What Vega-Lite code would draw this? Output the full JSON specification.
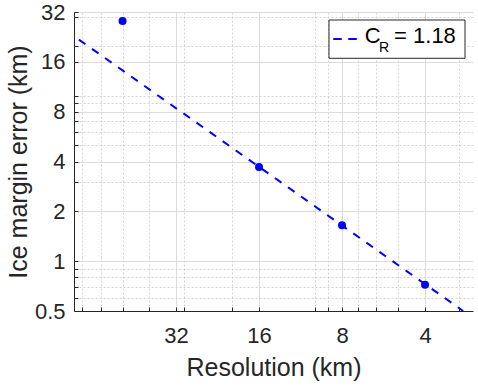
{
  "$schema": "https://vega.github.io/schema/vega-lite/v6.json",
  "width": 399,
  "height": 299,
  "autosize": {"type": "none"},
  "padding": {"left": 74, "top": 12, "right": 5, "bottom": 75},
  "background": "white",
  "config": {"view": {"stroke": null}, "font": "Liberation Sans"},
  "layer": [
    {
      "data": {"values": [
        {"res": 72, "err": 21.8},
        {"res": 2.91, "err": 0.5}
      ]},
      "mark": {"type": "line", "strokeDash": [8, 8], "strokeWidth": 2, "color": "#0000ff"},
      "encoding": {
        "x": {
          "field": "res", "type": "quantitative",
          "scale": {"type": "log", "domain": [2.68, 75], "reverse": true, "nice": false, "zero": false},
          "axis": {
            "title": "Resolution (km)",
            "values": [3, 4, 5, 6, 7, 8, 9, 10, 16, 20, 30, 32, 40, 50, 60, 70],
            "labelExpr": "indexof([4,8,16,32], datum.value) >= 0 ? datum.label : ''",
            "labelOverlap": false, "labelFlush": false,
            "labelFontSize": 22, "labelColor": "#262626", "labelPadding": 18,
            "tickSize": -4, "tickColor": "#262626", "domainColor": "#262626",
            "grid": true,
            "gridColor": {"condition": {"test": "indexof([4,8,16,32], datum.value) >= 0", "value": "#dcdcdc"}, "value": "#d2d2d2"},
            "gridDash": {"condition": {"test": "indexof([4,8,16,32], datum.value) >= 0", "value": []}, "value": [2, 2]},
            "titleFontSize": 25, "titleFontWeight": "normal", "titleColor": "#262626",
            "titleBaseline": "alphabetic", "titleY": 64
          }
        },
        "y": {
          "field": "err", "type": "quantitative",
          "scale": {"type": "log", "domain": [0.5, 32], "nice": false, "zero": false},
          "axis": {
            "title": "Ice margin error (km)",
            "values": [0.5, 0.6, 0.7, 0.8, 0.9, 1, 2, 3, 4, 5, 6, 7, 8, 9, 10, 16, 20, 30, 32],
            "labelExpr": "indexof([0.5,1,2,4,8,16,32], datum.value) >= 0 ? datum.label : ''",
            "labelOverlap": false, "labelFlush": false,
            "labelFontSize": 22, "labelColor": "#262626", "labelPadding": 13,
            "tickSize": -4, "tickColor": "#262626", "domainColor": "#262626",
            "grid": true,
            "gridColor": {"condition": {"test": "indexof([0.5,1,2,4,8,16,32], datum.value) >= 0", "value": "#dcdcdc"}, "value": "#d2d2d2"},
            "gridDash": {"condition": {"test": "indexof([0.5,1,2,4,8,16,32], datum.value) >= 0", "value": []}, "value": [2, 2]},
            "titleFontSize": 25, "titleFontWeight": "normal", "titleColor": "#262626",
            "titleBaseline": "alphabetic", "titleX": -48
          }
        }
      }
    },
    {
      "data": {"values": [
        {"res": 50, "err": 28.2},
        {"res": 16, "err": 3.7},
        {"res": 8, "err": 1.65},
        {"res": 4, "err": 0.72}
      ]},
      "mark": {"type": "circle", "size": 64, "color": "#0000ff", "opacity": 1},
      "encoding": {
        "x": {"field": "res", "type": "quantitative"},
        "y": {"field": "err", "type": "quantitative"}
      }
    },
    {
      "data": {"values": [{"key": "legend"}]},
      "mark": {"type": "rect", "fill": "white", "stroke": "#262626", "strokeWidth": 1},
      "encoding": {
        "x": {"datum": 8.92, "type": "quantitative"},
        "x2": {"datum": 2.865},
        "y": {"datum": 28.63, "type": "quantitative"},
        "y2": {"datum": 16.81}
      }
    },
    {
      "data": {"values": [{"key": "legend"}]},
      "mark": {"type": "rule", "strokeDash": [8.5, 6.5], "strokeWidth": 2, "color": "#0000ff"},
      "encoding": {
        "x": {"datum": 8.606, "type": "quantitative"},
        "x2": {"datum": 7.042},
        "y": {"datum": 21.98, "type": "quantitative"}
      }
    },
    {
      "data": {"values": [{"txt": "C"}]},
      "mark": {"type": "text", "align": "left", "baseline": "alphabetic", "fontSize": 22, "color": "#000000"},
      "encoding": {"x": {"datum": 6.616, "type": "quantitative"}, "y": {"datum": 20.88, "type": "quantitative"}, "text": {"field": "txt"}}
    },
    {
      "data": {"values": [{"txt": "R"}]},
      "mark": {"type": "text", "align": "left", "baseline": "alphabetic", "fontSize": 14, "color": "#000000"},
      "encoding": {"x": {"datum": 5.876, "type": "quantitative"}, "y": {"datum": 18.42, "type": "quantitative"}, "text": {"field": "txt"}}
    },
    {
      "data": {"values": [{"txt": "= 1.18"}]},
      "mark": {"type": "text", "align": "left", "baseline": "alphabetic", "fontSize": 22, "color": "#000000"},
      "encoding": {"x": {"datum": 5.18, "type": "quantitative"}, "y": {"datum": 20.88, "type": "quantitative"}, "text": {"field": "txt"}}
    }
  ]
}
